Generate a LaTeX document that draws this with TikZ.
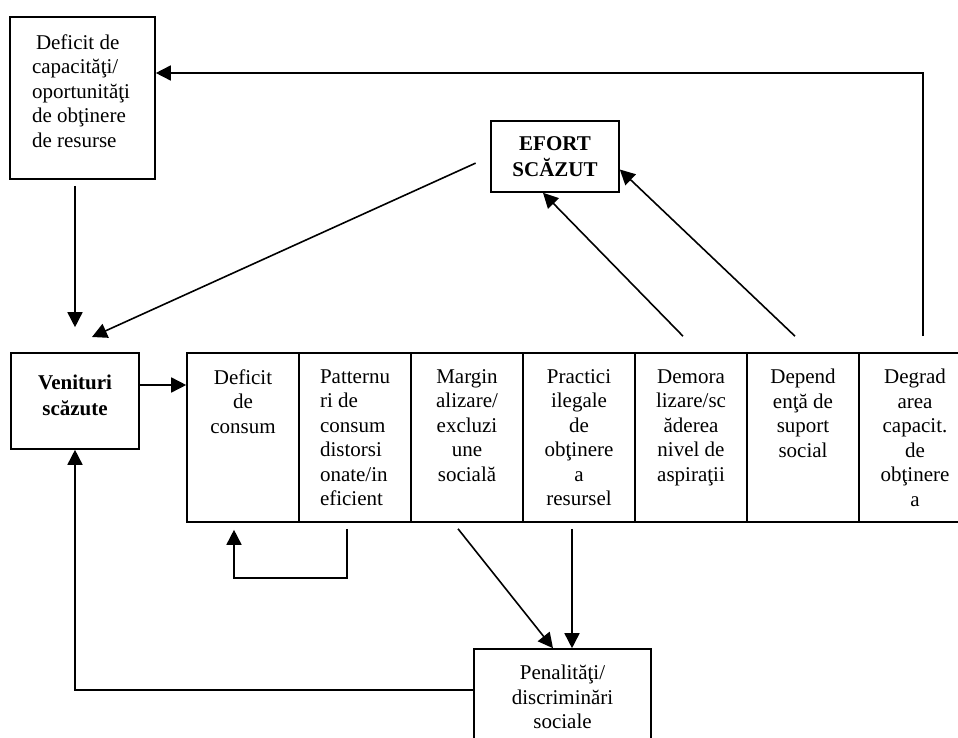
\documentclass[tikz,border=0pt]{standalone}
\usepackage{fontspec}
\setmainfont{Liberation Serif}
\usetikzlibrary{arrows.meta,positioning,calc}
\tikzset{
  every node/.style={font=\fontsize{21}{24.5}\selectfont},
  box/.style={draw, line width=1.6pt, inner sep=0pt},
  bold/.style={font=\fontsize{21}{26}\selectfont\bfseries},
  cell/.style={draw, line width=1.6pt, inner sep=0pt, minimum width=112pt, minimum height=169pt},
  celltext/.style={align=center, inner sep=0pt},
  link/.style={line width=1.6pt, -{Triangle[length=15pt,width=15pt]}},
}
\begin{document}
\begin{tikzpicture}[x=1pt,y=-1pt]
\useasboundingbox (0,0) rectangle (958,738);
% boxes round the table
\node[box, minimum width=145pt, minimum height=162pt] (deficit) at (82.5,98) {};
\node[align=left, inner sep=0pt] (deficittxt) at (81,91) {\hspace{4pt}Deficit de\\capacităţi/\\oportunităţi\\de obţinere\\de resurse};
\node[box, minimum width=128pt, minimum height=96pt] (venituri) at (75,401) {};
\node[bold, align=center, inner sep=0pt] (venituritxt) at (75,395) {Venituri\\scăzute};
\node[box, bold, align=center, minimum width=128pt, minimum height=71pt] (efort) at (555,156.5) {EFORT\\SCĂZUT};
\node[box, align=center, minimum width=177pt, minimum height=96pt] (pen) at (562.5,697) {Penalităţi/\\discriminări\\sociale};
% the table
\node[cell] (c1) at (243,437.5) {};
\node[cell] (c2) at (355,437.5) {};
\node[cell] (c3) at (467,437.5) {};
\node[cell] (c4) at (579,437.5) {};
\node[cell] (c5) at (691,437.5) {};
\node[cell] (c6) at (803,437.5) {};
\node[cell] (c7) at (915,437.5) {};
\node[celltext, below=17pt of c1.north] (t1) {Deficit\\de\\consum};
\node[celltext, align=left, below=17pt of c2.north] (t2) {Patternu\\ri de\\consum\\distorsi\\onate/in\\eficient};
\node[celltext, below=17pt of c3.north] (t3) {Margin\\alizare/\\excluzi\\une\\socială};
\node[celltext, below=17pt of c4.north] (t4) {Practici\\ilegale\\de\\obţinere\\a\\resursel};
\node[celltext, below=17pt of c5.north] (t5) {Demora\\lizare/sc\\ăderea\\nivel de\\aspiraţii};
\node[celltext, below=17pt of c6.north] (t6) {Depend\\enţă de\\suport\\social};
\node[celltext, below=17pt of c7.north] (t7) {Degrad\\area\\capacit.\\de\\obţinere\\a};
% arrows
\coordinate (vin) at (92,337);
\draw[link, shorten <=6pt, shorten >=25pt] (deficit.south -| venituri.north) -- (venituri.north);
\draw[link, shorten <=16pt] (efort.west) -- (vin);
\draw[link] ([yshift=16pt]venituri.east) -- ([yshift=16pt]venituri.east -| c1.west);
\draw[link] ([xshift=-8pt,yshift=-6pt]c2.south) -- ++(0,49) -| ([xshift=-9pt,yshift=-7pt]c1.south);
\draw[link] ([xshift=-9pt,yshift=-6pt]c3.south) -- ([xshift=-9.5pt]pen.north);
\draw[link] ([xshift=-7pt,yshift=-6pt]c4.south) -- ([xshift=-7pt]c4.south |- pen.north);
\draw[link] ([yshift=7pt]pen.west) -| (venituri.south);
\draw[link] ([xshift=-8pt,yshift=16pt]c5.north) -- ([xshift=-12pt]efort.south);
\draw[link] ([xshift=-8pt,yshift=16pt]c6.north) -- ([yshift=-13pt]efort.east);
\draw[link] ([xshift=8pt,yshift=16pt]c7.north) |- ([yshift=25pt]deficit.east);
\end{tikzpicture}
\end{document}
